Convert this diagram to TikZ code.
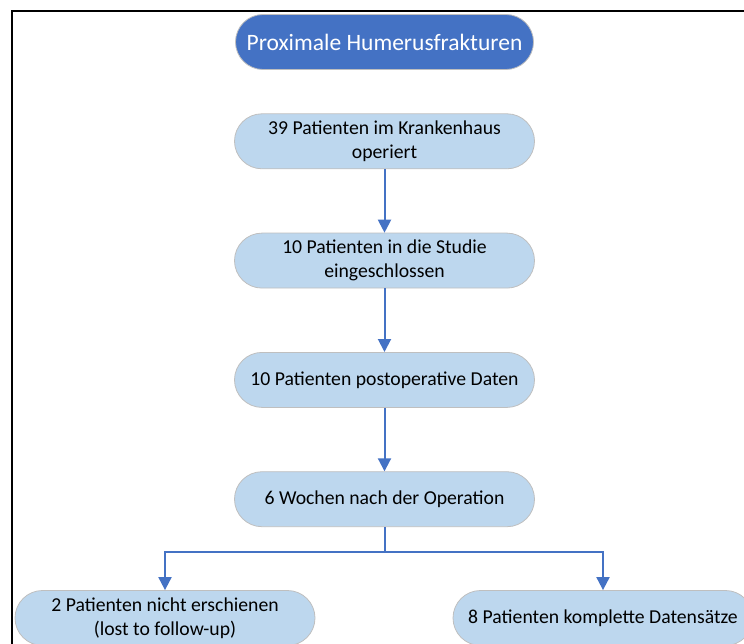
\documentclass[tikz,border=0pt]{standalone}
\usepackage{fontspec}
\setmainfont{Carlito}
\usetikzlibrary{arrows.meta, positioning}
\definecolor{darkblue}{HTML}{4472C4}
\definecolor{lightblue}{HTML}{BDD7EE}
\definecolor{rim}{HTML}{BFBFBF}
\tikzstyle{block} = [minimum width=300pt, minimum height=55pt, rectangle, rounded corners=27.5pt, draw=rim, line width=0.8pt, align=center, inner sep=2pt, font=\fontsize{19.7pt}{24pt}\selectfont]
\tikzstyle{stepbox} = [block, fill=lightblue, text=black]
\tikzstyle{title} = [block, fill=darkblue, text=white, minimum width=298pt, font=\fontsize{23.5pt}{28pt}\selectfont]
\tikzstyle{path} = [-{Triangle[width=13pt, length=13pt]}, line width=2pt, draw=darkblue]

\begin{document}
\begin{tikzpicture}[node distance=63.5pt]
    \useasboundingbox (0pt,0pt) rectangle (744pt,-644pt);
    \clip (0pt,0pt) rectangle (744pt,-644pt);

    % Frame.
    \draw [line width=2pt] (12pt,-660pt) -- (12pt,-11pt) -- (760pt,-11pt);

    % Nodes.
    \node (node 0) [title] at (384.5pt,-42pt) {Proximale Humerusfrakturen};
    \node (node 1) [stepbox, below=43.5pt of node 0] {39 Patienten im Krankenhaus\\operiert};
    \node (node 2) [stepbox, below=of node 1] {10 Patienten in die Studie\\eingeschlossen};
    \node (node 3) [stepbox, below=of node 2] {10 Patienten postoperative Daten};
    \node (node 4) [stepbox, below=of node 3] {6 Wochen nach der Operation};

    % Outcomes.
    \node (node 5) [stepbox, below=63pt of node 4, xshift=-219.5pt] {2 Patienten nicht erschienen\\(lost to follow-up)};
    \node (node 6) [stepbox, below=63pt of node 4, xshift=218.5pt] {8 Patienten komplette Datensätze};

    % Vertical arrows.
    \foreach \i in {1, ..., 3} {
        \pgfmathtruncatemacro{\j}{\i + 1}
        \draw [path] (node \i) -- (node \j);
    }

    % Split arrows.
    \foreach \i in {5, 6} {
        \draw [path] (node 4.south) -- ++(0,-25pt) -| (node \i.north);
    }
\end{tikzpicture}
\end{document}
